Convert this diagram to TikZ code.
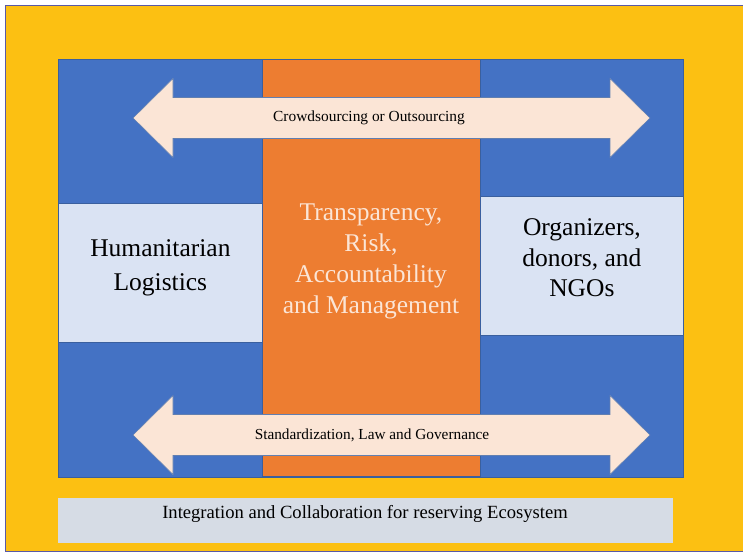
\documentclass[tikz,border=0pt]{standalone}
\usepackage{fontspec}
\setmainfont{Liberation Serif}
\definecolor{frameyellow}{HTML}{FCC012}
\definecolor{coreblue}{HTML}{4472C4}
\definecolor{edgeblue}{HTML}{3A5F9E}
\definecolor{colorange}{HTML}{ED7D31}
\definecolor{paleblue}{HTML}{DAE3F3}
\definecolor{peach}{HTML}{FBE5D6}
\definecolor{barblue}{HTML}{D6DCE5}
\tikzset{
  panel/.style={draw=edgeblue,line width=0.8pt,inner sep=0pt,anchor=north west},
  sidebox/.style={panel,fill=paleblue},
  bigtext/.style={align=center,font=\fontsize{25.5}{34}\selectfont},
  arrowtext/.style={font=\fontsize{15.4}{18}\selectfont}
}
\begin{document}
\begin{tikzpicture}[x=1pt,y=-1pt]
	\useasboundingbox (0,0) rectangle (743,553);
	
	\node[panel,draw=gray!70!blue,fill=frameyellow,minimum width=740pt,minimum height=546pt] (frame) at (5,5) {};
	\node[panel,fill=coreblue,minimum width=625pt,minimum height=418pt] (core) at (58,59) {};
	\node[panel,fill=colorange,minimum width=218pt,minimum height=417pt] (column) at (262,59) {};
	\node[sidebox,minimum width=204pt,minimum height=139pt] (human) at (58,203) {};
	\node[sidebox,minimum width=203pt,minimum height=139pt] (donors) at (480,196) {};
	\node[panel,draw=none,fill=barblue,minimum width=615pt,minimum height=45pt] (bar) at (58,498) {};
	
	% double arrows across the columns
	\foreach \y/\nm in {118/top,435/bottom}
	\draw[draw=edgeblue!80,fill=peach,line width=0.6pt] (133,\y) -- (173,\y-39.5) -- (173,\y-20.5) -- (610,\y-20.5) -- (610,\y-39.5)
		-- (650,\y) -- (610,\y+39.5) -- (610,\y+20.5) -- (173,\y+20.5) -- (173,\y+39.5) -- cycle coordinate (\nm) at (0,\y);
	
	\node[arrowtext] (crowd) at (369,118) {Crowdsourcing or Outsourcing};
	\node[arrowtext,font=\fontsize{15.3}{18}\selectfont] (law) at (372,435) {Standardization, Law and Governance};
	
	\node[bigtext] (humlabel) at (human.center) [yshift=5pt] {Humanitarian\\Logistics};
	\node[bigtext,text=peach,font=\fontsize{25.5}{31}\selectfont] (corelabel) at (371,261) {Transparency,\\Risk,\\Accountability\\and Management};
	\node[bigtext,font=\fontsize{25.5}{30.5}\selectfont] (donlabel) at (donors.center) [yshift=8pt] {Organizers,\\donors, and\\NGOs};
	\node[font=\fontsize{18.6}{21}\selectfont] (barlabel) at (365,514) {Integration and Collaboration for reserving Ecosystem};
\end{tikzpicture}
\end{document}
